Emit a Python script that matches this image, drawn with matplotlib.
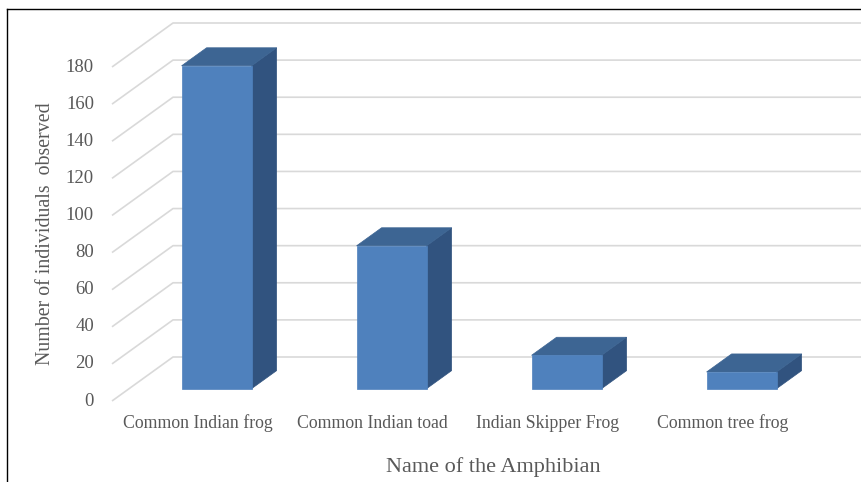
import matplotlib.pyplot as plt
from matplotlib.patches import Polygon
from matplotlib.lines import Line2D

# Survey counts per species
species = ["Common Indian frog", "Common Indian toad",
           "Indian Skipper Frog", "Common tree frog"]
counts = [174, 77, 18, 9]
yticks = list(range(0, 181, 20))

FRONT = "#4F81BD"
TOP = "#3D6593"
SIDE = "#31537F"
GRID = "#D9D9D9"
TEXT = "#595959"

plt.rcParams["font.family"] = ["Liberation Serif", "DejaVu Serif"]

W, H = 862, 482
fig = plt.figure(figsize=(W / 100, H / 100), dpi=100)
ax = fig.add_axes([0, 0, 1, 1])

# one category = 175 px along the floor, 20 units = 37.1 px vertically
px_cat = 175.0
px_val = 334.0 / 180.0
x_org, y_org = 112.0, 401.0
ax.set_xlim(-x_org / px_cat, (W - x_org) / px_cat)
ax.set_ylim((y_org - H) / px_val, y_org / px_val)
ax.axis("off")

# oblique depth offset of the full wall (61 px right, 44 px up)
DX = 61.0 / px_cat
DY = 44.0 / px_val
xmax = (W - x_org) / px_cat + 0.1

# side wall and back wall gridlines
for v in yticks:
    ax.plot([0, DX, xmax], [v, v + DY, v + DY], color=GRID, lw=1.2,
            solid_capstyle="butt", zorder=1)
    ax.text(-0.103, v, str(v), ha="right", va="center", fontsize=13.5,
            color=TEXT)

# 3D-looking columns
z0, z1 = 0.28, 0.69
half = 0.2
for i, v in enumerate(counts):
    x0 = i + 0.5 - half
    x1 = i + 0.5 + half
    fx0, fx1 = x0 + DX * z0, x1 + DX * z0
    bx0, bx1 = x0 + DX * z1, x1 + DX * z1
    fb, bb = DY * z0, DY * z1
    side = [(fx1, fb), (fx1, v + fb), (bx1, v + bb), (bx1, bb)]
    top = [(fx0, v + fb), (fx1, v + fb), (bx1, v + bb), (bx0, v + bb)]
    front = [(fx0, fb), (fx1, fb), (fx1, v + fb), (fx0, v + fb)]
    ax.add_patch(Polygon(side, closed=True, fc=SIDE, ec=SIDE, lw=0.5,
                         zorder=3))
    ax.add_patch(Polygon(top, closed=True, fc=TOP, ec=TOP, lw=0.5,
                         zorder=3))
    ax.add_patch(Polygon(front, closed=True, fc=FRONT, ec=FRONT, lw=0.5,
                         zorder=4))
    ax.text(i + 0.49, (y_org - 423) / px_val, species[i], ha="center",
            va="center", fontsize=12.8, color=TEXT)

fig.text(46 / W, 1 - 234 / H, "Number of individuals  observed",
         rotation=90, ha="center", va="center", fontsize=14.3, color=TEXT)
fig.text(493 / W, 1 - 467 / H, "Name of the Amphibian", ha="center",
         va="center", fontsize=16, color=TEXT)

# chart area border (left and top edges visible)
fig.add_artist(Line2D([7 / W, 7 / W], [0, 1 - 9 / H], color="black",
                      lw=1.0, transform=fig.transFigure))
fig.add_artist(Line2D([7 / W, 1], [1 - 9 / H, 1 - 9 / H], color="black",
                      lw=1.0, transform=fig.transFigure))

fig.savefig("out.png", dpi=100)
